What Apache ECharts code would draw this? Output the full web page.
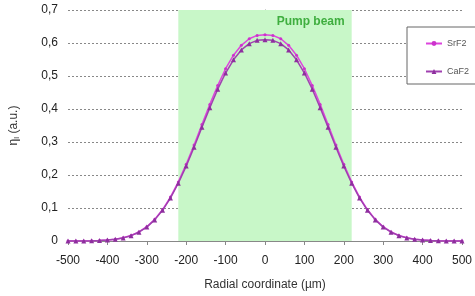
<!DOCTYPE html>
<html><head><meta charset="utf-8">
<script src="https://cdn.jsdelivr.net/npm/echarts@6/dist/echarts.min.js"></script>
<style>html,body{margin:0;padding:0;background:#fff}#c{width:475px;height:296px}</style>
</head><body><div id="c"></div>
<script>
const xPositions = [-500,-480,-460,-440,-420,-400,-380,-360,-340,-320,-300,-280,-260,-240,-220,-200,-180,-160,-140,-120,-100,-80,-60,-40,-20,0,20,40,60,80,100,120,140,160,180,200,220,240,260,280,300,320,340,360,380,400,420,440,460,480,500];
const srf2 = [0,0.0001,0.0003,0.0007,0.0014,0.0028,0.0053,0.0096,0.0166,0.0274,0.0432,0.0656,0.0953,0.133,0.179,0.2325,0.291,0.353,0.414,0.471,0.522,0.563,0.593,0.613,0.623,0.625,0.623,0.613,0.593,0.563,0.522,0.471,0.414,0.353,0.291,0.2325,0.179,0.133,0.0953,0.0656,0.0432,0.0274,0.0166,0.0096,0.0053,0.0028,0.0014,0.0007,0.0003,0.0001,0];
const caf2 = [0,0.0001,0.0003,0.0007,0.0014,0.0027,0.0052,0.0094,0.0162,0.0267,0.0422,0.064,0.093,0.130,0.175,0.227,0.284,0.345,0.404,0.460,0.509,0.549,0.579,0.598,0.608,0.610,0.608,0.598,0.579,0.549,0.509,0.460,0.404,0.345,0.284,0.227,0.175,0.130,0.093,0.064,0.0422,0.0267,0.0162,0.0094,0.0052,0.0027,0.0014,0.0007,0.0003,0.0001,0];
const pumpBeam = [-220, 220];
const pumpLabel = 'Pump beam';
const seriesNames = ['SrF2','CaF2'];
const yTicks = {min:0, max:0.7, step:0.1};
const xTicks = {min:-500, max:500, step:100};

const chart = echarts.init(document.getElementById('c'), null, {renderer:'canvas'});
const pair = (ys) => xPositions.map((x,i)=>[x, ys[i]]);
const font = 'Liberation Sans, Arial, sans-serif';
chart.setOption({
  animation:false,
  textStyle:{fontFamily:font},
  grid:{left:65, right:12, top:10, bottom:52},
  legend:{
    orient:'vertical', left:407, top:27,
    padding:[12,14,8,18], itemGap:19, itemWidth:16, itemHeight:6,
    borderColor:'#666', borderWidth:1, backgroundColor:'#fff',
    textStyle:{fontSize:9, color:'#555', fontFamily:font},
    data:seriesNames
  },
  xAxis:{
    type:'value', min:xTicks.min, max:xTicks.max, interval:xTicks.step,
    name:'Radial coordinate (\u00b5m)', nameLocation:'middle', nameGap:38,
    nameTextStyle:{fontSize:12, color:'#333'},
    axisLine:{show:true, onZero:false, lineStyle:{color:'#888', width:1}},
    axisTick:{show:true, length:4, lineStyle:{color:'#888'}},
    axisLabel:{fontSize:12, color:'#222', margin:14},
    splitLine:{show:false}
  },
  yAxis:{
    type:'value', min:yTicks.min, max:yTicks.max, interval:yTicks.step,
    name:'{a|\u03b7}{b|l}{a| (a.u.)}', nameLocation:'middle', nameGap:47,
    nameTextStyle:{rich:{a:{fontSize:12,color:'#333'}, b:{fontSize:8,color:'#333',verticalAlign:'bottom',padding:[6,0,0,0]}}},
    axisLine:{show:true, lineStyle:{color:'#888', width:1}},
    axisTick:{show:true, length:4, lineStyle:{color:'#888'}},
    axisLabel:{fontSize:12, color:'#222', margin:10, formatter:(v)=> v===0 ? '0' : v.toFixed(1).replace('.',',')},
    splitLine:{show:true, lineStyle:{color:'#888', type:[2,2], width:1}}
  },
  series:[
    {
      name:seriesNames[0], type:'line', data:pair(srf2),
      symbol:'circle', symbolSize:3, showSymbol:true,
      lineStyle:{color:'#dd44dd', width:1.5},
      itemStyle:{color:'#cc33cc'},
      z:3,
      markArea:{
        silent:true,
        itemStyle:{color:'#c8f7c8'},
        label:{show:true, position:'insideTopRight', offset:[-2,1], color:'#3fae3f', fontSize:12, fontWeight:'bold', fontFamily:font, formatter:pumpLabel},
        data:[[{xAxis:pumpBeam[0], yAxis:yTicks.max, name:pumpLabel},{xAxis:pumpBeam[1], yAxis:yTicks.min}]]
      }
    },
    {
      name:seriesNames[1], type:'line', data:pair(caf2),
      symbol:'triangle', symbolSize:5, showSymbol:true,
      lineStyle:{color:'#a040b0', width:1.5},
      itemStyle:{color:'#8e2f9e'},
      z:4
    }
  ]
});
</script></body></html>
